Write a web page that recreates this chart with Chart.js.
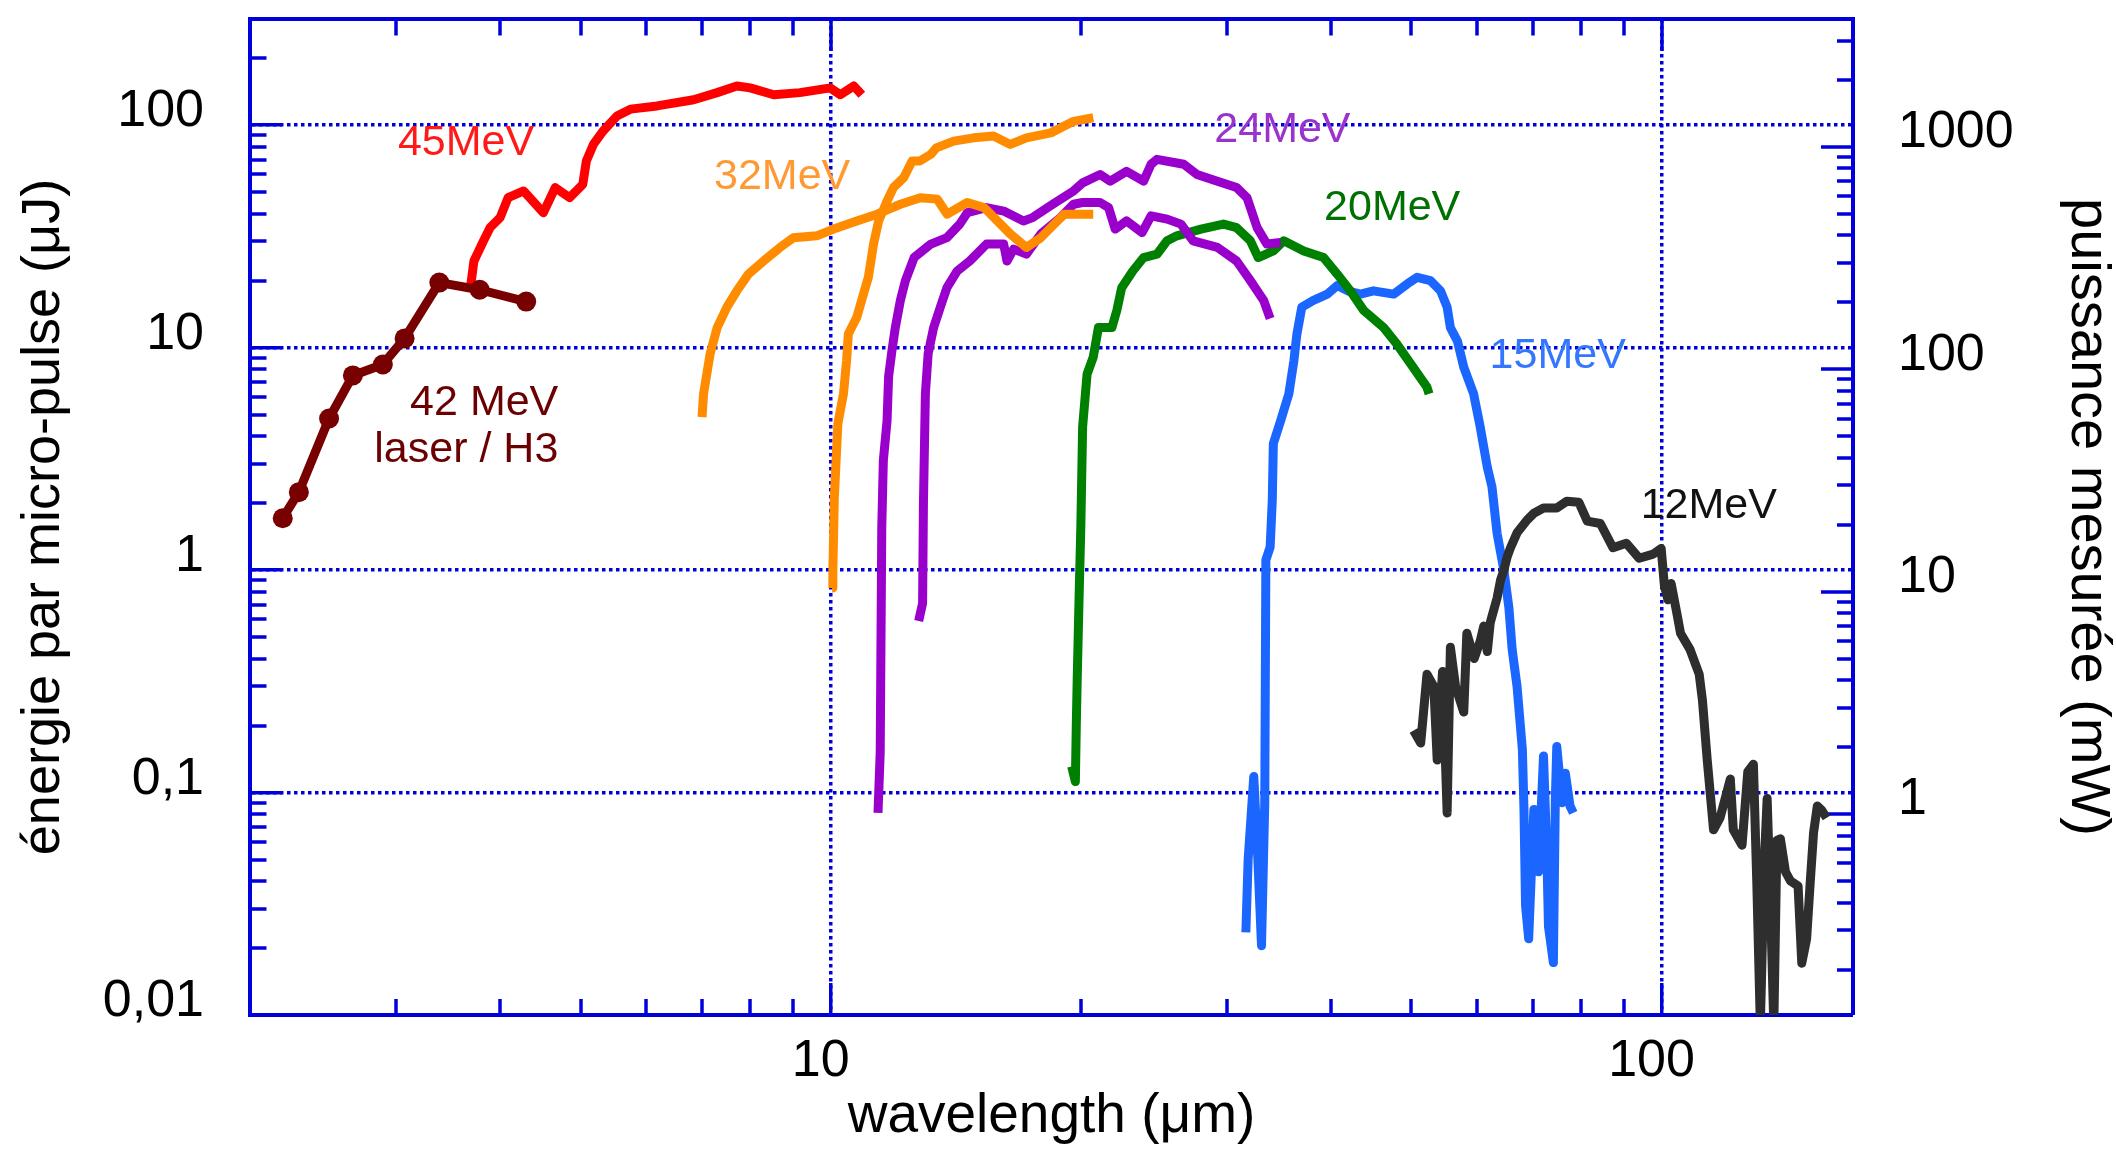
<!DOCTYPE html>
<html>
<head>
<meta charset="utf-8">
<title>Energie par micro-pulse</title>
<script src="https://cdn.jsdelivr.net/npm/chart.js@4.4.1/dist/chart.umd.min.js"></script>
<style>
  html, body { margin: 0; padding: 0; background: #fff; }
  #wrap { width: 2116px; height: 1150px; }
</style>
</head>
<body>
<div id="wrap"><canvas id="spectres"></canvas></div>
<script>
// longueurs d'onde (um) et energies par micro-pulse (uJ)
const wl42 = [2.19, 2.29, 2.49, 2.66, 2.89, 3.07, 3.38, 3.78, 4.30];
const e42 = [1.71, 2.24, 4.8, 7.5, 8.4, 11.0, 19.6, 18.2, 16.1];

const wl45 = [3.68, 3.72, 3.82, 3.89, 4.00, 4.09, 4.27, 4.51, 4.66, 4.85, 5.03, 5.08, 5.18, 5.32, 5.53, 5.74, 6.18, 6.84, 7.30, 7.71, 8.00, 8.54, 9.18, 9.99, 10.27, 10.66, 10.90];
const e45 = [18.0, 24.5, 30.2, 34.6, 38.4, 47.2, 50.6, 40.4, 52.4, 47.2, 54.2, 69.0, 81.9, 94.0, 110, 118, 122, 130, 140, 150, 147, 137, 140, 147, 137, 150, 137];

const wl32a = [7.00, 7.03, 7.16, 7.30, 7.50, 7.71, 7.96, 8.30, 8.69, 9.02, 9.62, 10.08, 10.75, 11.37, 12.13, 12.82, 13.43, 13.81, 14.60, 15.30, 16.45, 17.20, 17.90, 19.10, 20.70];
const e32a = [4.87, 6.2, 9.4, 12.3, 15.2, 18.0, 21.4, 24.5, 28.2, 31.2, 31.8, 34.1, 37.1, 39.8, 44.1, 47.2, 46.5, 39.8, 44.9, 42.6, 32.4, 28.2, 31.2, 39.8, 39.8];

const wl32b = [10.04, 10.06, 10.10, 10.20, 10.36, 10.45, 10.50, 10.75, 10.95, 11.10, 11.26, 11.42, 11.69, 11.90, 12.24, 12.53, 12.80, 13.20, 13.40, 14.06, 14.86, 15.70, 16.45, 17.20, 18.40, 19.60, 20.70];
const e32b = [0.83, 1.0, 2.1, 4.55, 6.2, 8.74, 11.5, 13.7, 17.4, 20.7, 29.2, 37.1, 45.6, 52.4, 58, 69, 69, 74, 79, 84.8, 87.7, 89.3, 81.9, 87.7, 92.3, 104, 108];

const wl24a = [11.40, 11.47, 11.52, 11.57, 11.69, 11.74, 11.85, 11.96, 12.13, 12.30, 12.60, 13.20, 13.80, 14.30, 14.60, 15.40, 16.15, 17.06, 17.50, 18.50, 19.60, 20.10, 21.10, 21.70, 22.70, 23.80, 24.30, 24.70, 26.60, 27.60, 29.20, 30.80, 31.70, 32.60, 33.50, 34.80];
const e24a = [0.081, 0.151, 1.56, 3.1, 4.7, 7.4, 9.7, 12.3, 16.3, 20.0, 25.4, 29.2, 31.2, 35.9, 40.4, 42.6, 41.1, 37.1, 38.4, 44.1, 50.6, 55, 60, 56, 62, 56, 66.7, 70.2, 66.7, 60, 56, 52.4, 47.2, 34.6, 29.2, 29.7];

const wl24b = [12.76, 12.90, 12.93, 13.00, 13.10, 13.30, 13.55, 13.80, 14.20, 14.70, 15.40, 16.15, 16.30, 16.60, 17.20, 17.90, 18.90, 19.60, 20.10, 21.10, 21.60, 22.00, 22.70, 23.70, 24.30, 25.40, 26.40, 27.30, 29.20, 30.80, 32.00, 33.20, 33.80];
const e24b = [0.59, 0.71, 1.99, 6.2, 9.4, 12.3, 15.2, 18.6, 22.1, 24.5, 29.2, 29.2, 24.5, 27.7, 26.3, 32.4, 38.4, 44.1, 44.9, 44.9, 42.6, 34.1, 37.1, 32.9, 39.1, 37.8, 35.9, 30.2, 28.2, 24.5, 20.0, 16.3, 13.5];

const wl20 = [19.50, 19.70, 19.75, 19.80, 19.90, 20.00, 20.10, 20.35, 20.70, 21.00, 21.80, 22.10, 22.40, 23.10, 23.80, 24.70, 25.40, 26.10, 27.90, 29.70, 30.80, 32.00, 32.70, 34.10, 35.10, 37.10, 39.20, 40.70, 42.20, 43.80, 46.30, 48.00, 49.90, 52.20, 52.50];
const e20 = [0.131, 0.112, 0.2, 0.321, 0.73, 1.56, 4.4, 7.6, 9.06, 12.3, 12.3, 14.7, 18.6, 22.1, 25.4, 26.3, 30.2, 31.8, 34.1, 35.9, 34.6, 30.2, 25.4, 27.2, 30.2, 27.2, 25.4, 21.4, 18.0, 14.7, 12.3, 10.4, 8.45, 6.64, 6.2];

const wl15 = [31.6, 31.8, 32.3, 32.6, 33.0, 33.3, 33.4, 33.8, 34.0, 34.1, 34.8, 35.6, 36.1, 36.4, 36.9, 38.1, 39.6, 40.7, 41.9, 43.4, 45.0, 47.6, 49.4, 50.8, 52.7, 54.2, 55.2, 55.7, 56.8, 57.8, 59.4, 60.5, 61.7, 62.5, 63.4, 64.6, 65.5, 66.1, 67.0, 68.0, 68.3, 68.6, 69.2, 70.2, 71.1, 72.1, 72.8, 73.1, 74.1, 74.5, 74.8, 75.9, 76.6, 77.6, 78.3];
const e15 = [0.0235, 0.05, 0.118, 0.06, 0.0205, 0.09, 1.11, 1.27, 2.06, 3.7, 4.7, 6.2, 8.74, 11.5, 15.2, 16.3, 17.4, 19.0, 18.0, 17.4, 18.0, 17.4, 19.3, 20.7, 20.0, 18.0, 15.2, 12.3, 10.7, 8.17, 6.2, 4.4, 2.9, 2.37, 1.46, 1.0, 0.68, 0.44, 0.3, 0.156, 0.084, 0.031, 0.022, 0.084, 0.044, 0.146, 0.05, 0.025, 0.0172, 0.093, 0.161, 0.09, 0.122, 0.087, 0.081];

const wl12 = [50.3, 51.3, 52.2, 53.2, 53.7, 54.5, 55.2, 55.7, 56.5, 57.8, 58.3, 59.5, 60.5, 61.1, 61.7, 62.2, 62.8, 63.4, 64.0, 64.6, 65.2, 65.8, 67.0, 68.9, 70.2, 72.1, 74.8, 76.9, 79.5, 81.4, 84.4, 87.4, 90.7, 94.0, 97.7, 99.9, 100.8, 101.8, 102.7, 104.5, 105.4, 108.2, 111.0, 112.0, 113.5, 114.6, 115.5, 117.6, 121.0, 122.0, 125.0, 127.0, 129.0, 130.2, 131.5, 133.0, 134.0, 135.3, 136.5, 137.7, 139.0, 141.0, 143.0, 146.0, 147.5, 149.5, 151.0, 152.4, 154.0, 156.0, 158.0];
const e12 = [0.19, 0.167, 0.34, 0.30, 0.14, 0.35, 0.081, 0.45, 0.30, 0.23, 0.52, 0.40, 0.48, 0.56, 0.43, 0.58, 0.66, 0.75, 0.90, 1.0, 1.15, 1.26, 1.47, 1.68, 1.80, 1.90, 1.90, 2.04, 2.02, 1.66, 1.62, 1.26, 1.32, 1.13, 1.18, 1.25, 0.85, 0.735, 0.87, 0.62, 0.52, 0.44, 0.34, 0.26, 0.14, 0.094, 0.068, 0.077, 0.115, 0.068, 0.058, 0.124, 0.134, 0.04, 0.009, 0.05, 0.094, 0.03, 0.009, 0.061, 0.062, 0.044, 0.040, 0.038, 0.0171, 0.022, 0.0396, 0.066, 0.087, 0.083, 0.077];

// graduations
const xMajors = [10, 100];
const xMajorLabels = ['10', '100'];
const yMajors = [0.01, 0.1, 1, 10, 100];
const yMajorLabels = ['0,01', '0,1', '1', '10', '100'];
const pMajors = [1, 10, 100, 1000];
const pMajorLabels = ['1', '10', '100', '1000'];

// noms des courbes, places en coordonnees de donnees
const curveLabels = [
  { text: '45MeV', x: 3.64, y: 83, color: '#ff1a1a', align: 'center' },
  { text: '32MeV', x: 8.74, y: 58.5, color: '#ff9933', align: 'center' },
  { text: '24MeV', x: 34.97, y: 95, color: '#9933cc', align: 'center' },
  { text: '20MeV', x: 47.4, y: 42.5, color: '#007000', align: 'center' },
  { text: '15MeV', x: 75.0, y: 9.12, color: '#3377ff', align: 'center' },
  { text: '12MeV', x: 114, y: 1.94, color: '#111111', align: 'center' },
  { text: '42 MeV', x: 4.70, y: 5.61, color: '#6a0000', align: 'right' },
  { text: 'laser / H3', x: 4.70, y: 3.45, color: '#6a0000', align: 'right' }
];

const BLUE = '#0000dd';
const FONT = '"Liberation Sans", Arial, Helvetica, sans-serif';
Chart.defaults.font.family = FONT;
Chart.defaults.color = '#000';

// ticks 1..9 x 10^n entre min et max
function logTicks(min, max, majors) {
  const ticks = [];
  for (let d = Math.floor(Math.log10(min)); d <= Math.ceil(Math.log10(max)); d++) {
    for (let s = 1; s <= 9; s++) {
      const v = +(s * Math.pow(10, d)).toPrecision(6);
      if (v < min * 0.999 || v > max * 1.001) continue;
      ticks.push({ value: v, major: majors.includes(v) });
    }
  }
  return ticks;
}

function labelFor(majors, labels) {
  return (v) => {
    const i = majors.indexOf(+(+v).toPrecision(6));
    return i >= 0 ? labels[i] : '';
  };
}

// petites graduations plus courtes que les grandes (tirets sur le trait)
const MINOR_FROM_AXIS = [18, 200];
const MINOR_TO_AXIS = [0, 15.5, 19, 200];

function grid(minorDash, gridOn) {
  return {
    drawOnChartArea: gridOn,
    drawTicks: true,
    tickLength: -32,
    tickWidth: 3.5,
    tickColor: BLUE,
    color: BLUE,
    lineWidth: (c) => (gridOn && c.tick && c.tick.major) ? 3.5 : 0,
    tickBorderDash: (c) => (c.tick && c.tick.major) ? [] : minorDash
  };
}
const border = { display: true, color: BLUE, width: 4, dash: [3.5, 3.5] };

function pts(xs, ys) { return xs.map((x, i) => ({ x: x, y: ys[i] })); }
function serie(xs, ys, color, extra) {
  return Object.assign({
    data: pts(xs, ys),
    borderColor: color,
    backgroundColor: color,
    borderWidth: 9,
    pointRadius: 0,
    showLine: true,
    tension: 0,
    clip: 0,
    borderJoinStyle: 'round',
    borderCapStyle: 'butt'
  }, extra || {});
}

const labelPlugin = {
  id: 'curveLabels',
  afterDatasetsDraw(chart) {
    const { ctx, scales: { x, y } } = chart;
    ctx.save();
    ctx.font = '43px ' + FONT;
    ctx.textBaseline = 'middle';
    curveLabels.forEach(l => {
      ctx.fillStyle = l.color;
      ctx.textAlign = l.align;
      ctx.fillText(l.text, x.getPixelForValue(l.x), y.getPixelForValue(l.y));
    });
    ctx.restore();
  }
};

const ctx = document.getElementById('spectres').getContext('2d');
new Chart(ctx, {
  type: 'scatter',
  data: {
    datasets: [
      serie(wl42, e42, '#780000', { pointRadius: 10, pointBorderWidth: 0, pointBackgroundColor: '#780000' }),
      serie(wl45, e45, '#ff0000'),
      serie(wl32a, e32a, '#ff8c00'),
      serie(wl32b, e32b, '#ff8c00'),
      serie(wl24a, e24a, '#9900cc'),
      serie(wl24b, e24b, '#9900cc'),
      serie(wl20, e20, '#008000'),
      serie(wl12, e12, '#2e2e2e'),
      serie(wl15, e15, '#1a66ff')
    ]
  },
  options: {
    responsive: true,
    maintainAspectRatio: false,
    animation: false,
    events: [],
    layout: { padding: 0, autoPadding: false },
    plugins: { legend: { display: false }, tooltip: { enabled: false } },
    scales: {
      x: {
        type: 'logarithmic', position: 'bottom', min: 2, max: 170,
        afterBuildTicks: (s) => { s.ticks = logTicks(2, 170, xMajors); },
        afterFit: (s) => { s.height = 135; s.paddingLeft = 0; s.paddingRight = 0; },
        grid: grid(MINOR_FROM_AXIS, true),
        border: border,
        ticks: {
          autoSkip: false, maxRotation: 0, padding: 47, labelOffset: -10,
          font: { size: 52 }, color: '#000',
          callback: labelFor(xMajors, xMajorLabels)
        },
        title: { display: true, text: 'wavelength (μm)', font: { size: 55 }, color: '#000', padding: { top: 0, bottom: 0 } }
      },
      xTop: {
        type: 'logarithmic', axis: 'x', position: 'top', min: 2, max: 170,
        afterBuildTicks: (s) => { s.ticks = logTicks(2, 170, xMajors); },
        afterFit: (s) => { s.height = 19; s.paddingLeft = 0; s.paddingRight = 0; },
        grid: grid(MINOR_TO_AXIS, false),
        border: border,
        ticks: { display: false, autoSkip: false }
      },
      y: {
        type: 'logarithmic', position: 'left', min: 0.01, max: 300,
        afterBuildTicks: (s) => { s.ticks = logTicks(0.01, 300, yMajors); },
        afterFit: (s) => { s.width = 250; s.paddingTop = 0; s.paddingBottom = 0; },
        grid: grid(MINOR_TO_AXIS, true),
        border: border,
        ticks: {
          autoSkip: false, padding: 78, labelOffset: -13,
          font: { size: 52 }, color: '#000',
          callback: labelFor(yMajors, yMajorLabels)
        },
        title: { display: true, text: 'énergie par micro-pulse (μJ)', font: { size: 54 }, color: '#000', padding: { top: 12, bottom: 0 } }
      },
      y2: {
        type: 'logarithmic', axis: 'y', position: 'right', min: 0.125, max: 3750,
        afterBuildTicks: (s) => { s.ticks = logTicks(0.125, 3750, pMajors); },
        afterFit: (s) => { s.width = 263; s.paddingTop = 0; s.paddingBottom = 0; },
        grid: grid(MINOR_FROM_AXIS, false),
        border: border,
        ticks: {
          autoSkip: false, padding: 77, labelOffset: -14,
          font: { size: 52 }, color: '#000',
          callback: labelFor(pMajors, pMajorLabels)
        },
        title: { display: true, text: 'puissance mesurée (mW)', font: { size: 56 }, color: '#000', padding: { top: -5, bottom: 0 } }
      }
    }
  },
  plugins: [labelPlugin]
});
</script>
</body>
</html>
